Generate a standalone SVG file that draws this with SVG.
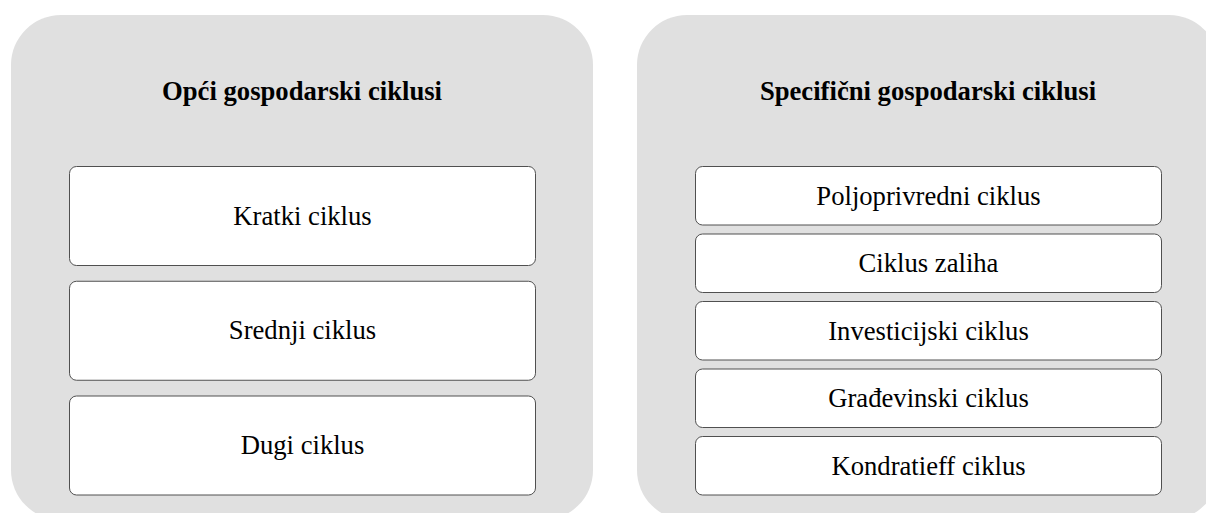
<svg xmlns="http://www.w3.org/2000/svg" width="1206" height="513" viewBox="0 0 1206 513">
<style>
.panel{fill:#e0e0e0;stroke:none}
.box{fill:#ffffff;stroke:#505050;stroke-width:1}
.title{font-family:"Liberation Serif","Times New Roman",serif;font-size:26.67px;font-weight:bold;fill:#000;text-anchor:middle}
.lbl{font-family:"Liberation Serif","Times New Roman",serif;font-size:26.67px;fill:#000;text-anchor:middle}
</style>
<g id="panel-opci">
<rect class="panel" x="11" y="15" width="582" height="505" rx="50" ry="50"/>
<text class="title" x="302" y="99.5">Opći gospodarski ciklusi</text>
</g>
<g id="panel-specificni">
<rect class="panel" x="637" y="15" width="582" height="505" rx="50" ry="50"/>
<text class="title" x="928" y="99.5">Specifični gospodarski ciklusi</text>
</g>
<g id="kratki">
<rect class="box" x="69.5" y="166.5" width="466" height="99" rx="7"/>
<text class="lbl" x="302.5" y="224.5">Kratki ciklus</text>
</g>
<g id="srednji">
<rect class="box" x="69.5" y="281.25" width="466" height="99" rx="7"/>
<text class="lbl" x="302.5" y="339.25">Srednji ciklus</text>
</g>
<g id="dugi">
<rect class="box" x="69.5" y="396" width="466" height="99" rx="7"/>
<text class="lbl" x="302.5" y="454">Dugi ciklus</text>
</g>
<g id="poljoprivredni">
<rect class="box" x="695.5" y="166.5" width="466" height="58.5" rx="7"/>
<text class="lbl" x="928.5" y="204.5">Poljoprivredni ciklus</text>
</g>
<g id="zalihe">
<rect class="box" x="695.5" y="234" width="466" height="58.5" rx="7"/>
<text class="lbl" x="928.5" y="272">Ciklus zaliha</text>
</g>
<g id="investicijski">
<rect class="box" x="695.5" y="301.5" width="466" height="58.5" rx="7"/>
<text class="lbl" x="928.5" y="339.5">Investicijski ciklus</text>
</g>
<g id="gradevinski">
<rect class="box" x="695.5" y="369" width="466" height="58.5" rx="7"/>
<text class="lbl" x="928.5" y="407">Građevinski ciklus</text>
</g>
<g id="kondratieff">
<rect class="box" x="695.5" y="436.5" width="466" height="58.5" rx="7"/>
<text class="lbl" x="928.5" y="474.5">Kondratieff ciklus</text>
</g>
<g id="connectors"/>
</svg>
